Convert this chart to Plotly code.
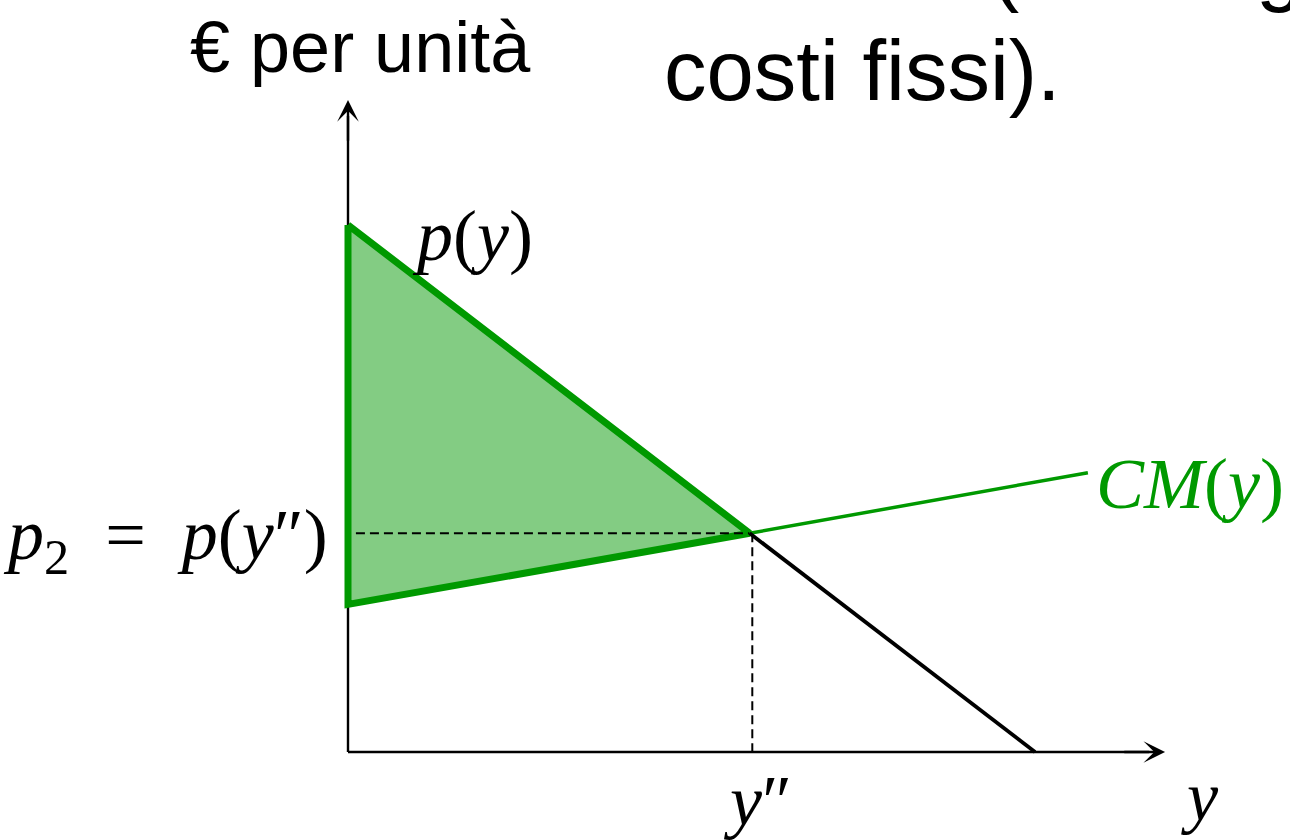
import plotly.graph_objects as go

# ---- data (schematic values) ----
demand_q = [0.0, 7.6, 13.0]      # quantity y
demand_p = [10.0, 4.15, 0.0]     # p(y)
cm_q = [0.0, 7.6, 14.0]
cm_p = [2.8, 4.15, 5.3]          # CM(y)
y2 = 7.6                         # y''
p2 = 4.15                        # p2 = p(y'')
axis_x_max = 15.46
axis_y_max = 12.37

GREEN = "#009900"
FILL = "#83CC83"
SERIF = "Liberation Serif, Times New Roman, serif"
SANS = "Liberation Sans, Arial, sans-serif"

fig = go.Figure()

# axes lines
fig.add_trace(go.Scatter(x=[0, axis_x_max - 0.3], y=[0, 0], mode="lines",
                         line=dict(color="black", width=2.4), hoverinfo="skip"))
fig.add_trace(go.Scatter(x=[0, 0], y=[0, axis_y_max - 0.3], mode="lines",
                         line=dict(color="black", width=2.4), hoverinfo="skip"))

# producer surplus triangle
fig.add_trace(go.Scatter(x=[demand_q[0], demand_q[1], cm_q[0], demand_q[0]],
                         y=[demand_p[0], demand_p[1], cm_p[0], demand_p[0]],
                         mode="lines", fill="toself", fillcolor=FILL,
                         line=dict(color=GREEN, width=7), hoverinfo="skip"))

# dashed guides
fig.add_trace(go.Scatter(x=[0.15, y2], y=[p2, p2], mode="lines",
                         line=dict(color="black", width=2, dash="9px,5px"), hoverinfo="skip"))
fig.add_trace(go.Scatter(x=[y2 + 0.05, y2 + 0.05], y=[p2, 0], mode="lines",
                         line=dict(color="black", width=2, dash="9px,5px"), hoverinfo="skip"))

# CM continuation
fig.add_trace(go.Scatter(x=cm_q[1:], y=cm_p[1:], mode="lines",
                         line=dict(color=GREEN, width=3.5), hoverinfo="skip"))
# demand continuation
fig.add_trace(go.Scatter(x=demand_q[1:], y=demand_p[1:], mode="lines",
                         line=dict(color="black", width=3.8), hoverinfo="skip"))

ann = []
# arrowheads
ann.append(dict(x=axis_x_max, y=0, ax=axis_x_max - 0.8, ay=0, xref="x", yref="y",
                axref="x", ayref="y", showarrow=True, arrowhead=3, arrowsize=1.5,
                arrowwidth=2.4, arrowcolor="black", text=""))
ann.append(dict(x=0, y=axis_y_max, ax=0, ay=axis_y_max - 0.8, xref="x", yref="y",
                axref="x", ayref="y", showarrow=True, arrowhead=3, arrowsize=1.5,
                arrowwidth=2.4, arrowcolor="black", text=""))

def label(text, x, y, size, color="black", family=SERIF, xanchor="center", yanchor="middle",
          xref="x", yref="y"):
    ann.append(dict(text=text, x=x, y=y, xref=xref, yref=yref, showarrow=False,
                    xanchor=xanchor, yanchor=yanchor,
                    font=dict(family=family, size=size, color=color)))

label("<i>p</i>(<i>y</i>)", 2.35, 9.80, 72)
label("<i>CM</i>(<i>y</i>)", 15.93, 5.09, 72, color=GREEN)
label("<i>p</i><sub>2</sub>\u00a0\u00a0=\u00a0\u00a0<i>p</i>(<i>y</i>\u2033)", -0.34, 4.02, 72,
      xanchor="right")
label("<i>y</i>\u2033", 7.74, -0.93, 72)
label("<i>y</i>", 16.12, -0.84, 70)
label("\u20ac per unità", 0.23, 13.38, 72, family=SANS)
label("costi fissi).", 9.73, 12.94, 85, family=SANS)
# clipped remains of the slide's previous text line
label("(", 989 / 1290, 1 - 15 / 840, 85, family=SANS, xanchor="left", yanchor="bottom",
      xref="paper", yref="paper")
label("g", 1254 / 1290, 1 - 15 / 840, 85, family=SANS, xanchor="left", yanchor="bottom",
      xref="paper", yref="paper")

fig.update_layout(
    width=1290, height=840,
    margin=dict(l=0, r=0, t=0, b=0),
    paper_bgcolor="white", plot_bgcolor="white",
    showlegend=False,
    xaxis=dict(range=[-348 / 52.85, (1290 - 348) / 52.85], visible=False, fixedrange=True),
    yaxis=dict(range=[-(840 - 752) / 52.7, 752 / 52.7], visible=False, fixedrange=True),
    annotations=ann,
)

fig.write_html("out.html", config={"displayModeBar": False},
               post_script="document.body.style.margin='0';")
